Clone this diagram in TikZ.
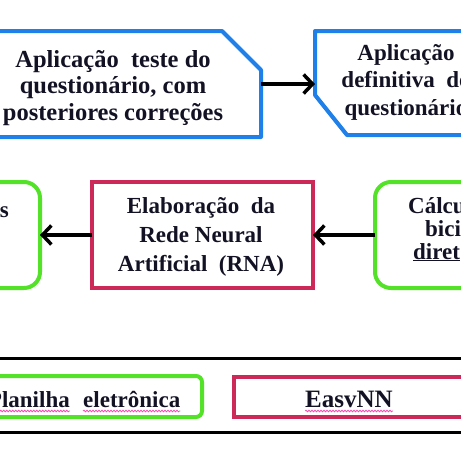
\documentclass[tikz,border=0pt]{standalone}
\usepackage{fontspec}
\setmainfont{Liberation Serif}
\usepackage{tikz}
\usetikzlibrary{arrows.meta,positioning,decorations.pathmorphing}
\definecolor{boxblue}{RGB}{30,128,232}
\definecolor{boxgreen}{RGB}{84,226,40}
\definecolor{boxred}{RGB}{204,40,88}
\definecolor{inkdark}{RGB}{18,18,36}
\begin{document}
\begin{tikzpicture}[
  x=1pt, y=-1pt,
  font=\fontsize{23}{26}\selectfont\bfseries,
  txt/.style={align=center, text=inkdark, inner sep=0pt},
  shell/.style={inner sep=0pt, outer sep=0pt, text=inkdark, align=center},
  bluebox/.style={draw=boxblue, line width=4pt, line join=round},
  redbox/.style={shell, draw=boxred, line width=4pt},
  greenbox/.style={shell, draw=boxgreen, line width=4pt, rounded corners=16pt},
  smallgreen/.style={greenbox, rounded corners=6pt},
  spell/.style={draw=magenta!70, line width=0.8pt, decorate, decoration={snake, amplitude=0.8pt, segment length=3pt}},
  arr/.style={-{Straight Barb[length=9pt, width=19pt]}, line width=3.5pt, black}]
  \useasboundingbox (0,0) rectangle (461,461);
  \clip (0,0) rectangle (461,461);
  % row 1: questionnaire
  \node[shell, minimum width=264pt, minimum height=106pt] (teste) at (129,84) {};
  \node[txt, font=\fontsize{24.5}{26.5}\selectfont\bfseries] (testetxt) at (113,88)
    {Aplicação~~teste do\\questionário, com\\posteriores correções};
  \draw[bluebox] (teste.south west) -- (teste.north west) -- ([xshift=-39pt]teste.north east)
    -- ([yshift=-39pt]teste.north east) -- (teste.south east) -- cycle;
  \node[shell, minimum width=190pt, minimum height=104pt] (defin) at (410,83) {};
  \node[txt, font=\fontsize{23}{27.5}\selectfont\bfseries] (defintxt) at (406,82) {Aplicação\\definitiva~~do\\questionário};
  \draw[bluebox] (defin.north west) -- (defin.north east) -- (defin.south east)
    -- ([xshift=32pt]defin.south west) -- ([yshift=40pt]defin.south west) -- cycle;
  \draw[arr] (teste.east) -- (teste.east -| defin.west);
  % row 2: network
  \node[greenbox, minimum width=200pt, minimum height=106pt] (anal) at (-60,235) {};
  \node[txt, anchor=base east] (analtxt) at (9,217) {s};
  \node[redbox, minimum width=221pt, minimum height=106pt] (rna) at (202.5,235) {};
  \node[txt, font=\fontsize{23}{29}\selectfont\bfseries] (rnatxt) at (201,237)
    {Elaboração~~da\\Rede Neural\\Artificial~~(RNA)};
  \node[greenbox, minimum width=221pt, minimum height=106pt] (calc) at (485.5,235) {};
  \node[txt, anchor=base west] (calc1) at (408,213) {Cálcu};
  \node[txt, anchor=base west] (calc2) at (425,236) {bici};
  \node[txt, anchor=base west] (calc3) at (413,259) {\underline{diret}};
  \draw[arr] (rna.west) -- (anal.east);
  \draw[arr] (calc.west) -- (rna.east);
  % row 3: software
  \node[shell, draw, line width=3pt, minimum width=480pt, minimum height=74pt] (tools) at (230.5,395) {};
  \node[smallgreen, minimum width=230pt, minimum height=41pt] (plan) at (87,396.5) {};
  \node[txt, anchor=base east] (plan1) at (70,407) {Planilha};
  \node[txt, anchor=base west] (plan2) at (83,407) {eletrônica};
  \node[redbox, minimum width=229pt, minimum height=40pt] (easy) at (348.5,397) {};
  \node[txt, anchor=base, font=\fontsize{25}{27}\selectfont\bfseries] (easytxt) at (349,407) {EasvNN};
  \draw[spell] ([yshift=-4pt]plan1.base west) -- ([yshift=-4pt]plan1.base east);
  \draw[spell] ([yshift=-4pt]plan2.base west) -- ([yshift=-4pt]plan2.base east);
  \draw[spell] ([yshift=-4pt]easytxt.base west) -- ([yshift=-4pt]easytxt.base east);
\end{tikzpicture}
\end{document}
